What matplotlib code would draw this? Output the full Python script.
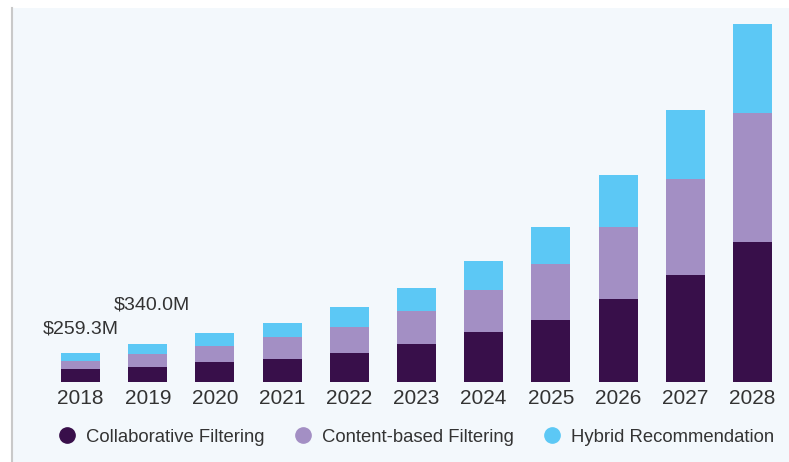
import matplotlib.pyplot as plt
from matplotlib.patches import Rectangle
from matplotlib.lines import Line2D
import numpy as np

plt.rcParams['font.family'] = ['Liberation Sans', 'DejaVu Sans']

# Market size by technique, USD million
years = ["2018", "2019", "2020", "2021", "2022", "2023", "2024", "2025", "2026", "2027", "2028"]
collaborative = [112.4, 132.6, 175.9, 202.7, 261.6, 342.9, 443.8, 557.2, 738.5, 952.8, 1253.8]
content_based = [76.1, 120.0, 142.9, 196.5, 229.5, 288.4, 375.1, 500.1, 645.6, 866.2, 1148.4]
hybrid = [70.8, 87.4, 121.4, 130.4, 181.3, 208.1, 261.6, 326.8, 464.4, 613.5, 798.3]
series_names = ["Collaborative Filtering", "Content-based Filtering", "Hybrid Recommendation"]
colors = ["#380F4A", "#A38FC4", "#5CC8F5"]

fig = plt.figure(figsize=(7.89, 4.62), dpi=100)
fig.patch.set_facecolor("white")

# light panel behind the chart with a grey rule on its left edge
fig.patches.append(Rectangle((12 / 789, 0), 777 / 789, 454 / 462,
                             transform=fig.transFigure, facecolor="#F3F8FC",
                             edgecolor="none", zorder=0))
fig.add_artist(Line2D([11.5 / 789, 11.5 / 789], [0, 454 / 462],
                      transform=fig.transFigure, color="#C9C9C9", lw=1.5))

ax = fig.add_axes([45 / 789, 80 / 462, 743 / 789, 358 / 462])
ax.set_facecolor("none")
ax.set_zorder(2)

x = np.arange(len(years))
width = 0.58
bottom = np.zeros(len(years))
for vals, col, name in zip([collaborative, content_based, hybrid], colors, series_names):
    ax.bar(x, vals, width, bottom=bottom, color=col, label=name, zorder=2)
    bottom += np.array(vals)

totals = bottom
ax.annotate(f"${totals[0]:.1f}M", (x[0], totals[0]), xytext=(0, 17),
            textcoords="offset points", ha="center", va="center",
            fontsize=14, color="#333333")
ax.annotate(f"${totals[1]:.1f}M", (x[1] + 0.06, totals[1]), xytext=(0, 28),
            textcoords="offset points", ha="center", va="center",
            fontsize=14, color="#333333")

ax.set_xlim(-0.53, len(years) - 0.47)
ax.set_ylim(0, totals.max() * 1.0)
ax.set_xticks(x)
ax.set_xticklabels(years, fontsize=15, color="#333333")
ax.tick_params(axis="x", length=0, pad=5)
ax.set_yticks([])
for s in ax.spines.values():
    s.set_visible(False)

handles = [Line2D([], [], marker="o", ls="none", markersize=11,
                  markerfacecolor=c, markeredgecolor=c) for c in colors]
fig.legend(handles, series_names, loc="center", bbox_to_anchor=(0.526, 25 / 462),
           ncol=3, frameon=False, fontsize=13.3, handlelength=1.2,
           handletextpad=0.4, columnspacing=1.5, labelcolor="#333333")

fig.savefig("out.png", dpi=100)
